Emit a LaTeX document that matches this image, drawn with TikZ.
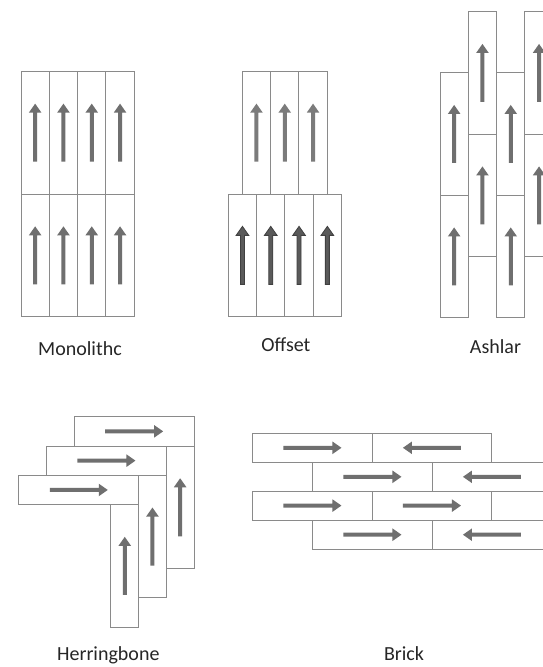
\documentclass[tikz,border=0pt]{standalone}
\usepackage{fontspec}
\setmainfont{Carlito}
\definecolor{PlankGray}{HTML}{8A8A8A}
\definecolor{ArrowGray}{HTML}{6F6F6F}
\definecolor{LightArrow}{HTML}{7B7B7B}
\definecolor{DarkArrow}{HTML}{5A5A5A}
\definecolor{LabelGray}{HTML}{262626}
\tikzset{
  plank/.style={draw=PlankGray, line width=1pt, fill=white},
  patternlabel/.style={font=\fontsize{20}{24}\selectfont, text=LabelGray, anchor=base, inner sep=0pt},
  uparrow/.pic={\path[pic actions] (-2,29) -- (-2,-20) -- (-6.3,-20) -- (0,-29) -- (6.3,-20) -- (2,-20) -- (2,29) -- cycle;},
  rightarrow/.pic={\path[pic actions] (-29,-2) -- (20,-2) -- (20,-6.3) -- (29,0) -- (20,6.3) -- (20,2) -- (-29,2) -- cycle;}
}

\begin{document}
\begin{tikzpicture}[x=1pt, y=-1pt]
  \useasboundingbox (0,0) rectangle (543,667);
  \clip (0,0) rectangle (543,667);
  \fill[white] (0,0) rectangle (543,667);

  % Monolithc
  \foreach \i in {0,...,3} {
    \foreach \j in {0,1} {
      \draw[plank] (21+\i*28.3, 71.3+\j*122.7) rectangle ++(28.3,122.7);
      \pic[fill=ArrowGray] at (35.15+\i*28.3, 132.65+\j*122.7) {uparrow};
    }
  }
  \node[patternlabel] (monolithc) at (80,355) {Monolithc};

  % Offset
  \foreach \i in {0,1,2} {
    \draw[plank] (242.3+\i*28.3, 71.3) rectangle ++(28.3,122.7);
    \pic[fill=LightArrow] at (256.45+\i*28.3, 132.65) {uparrow};
  }
  \foreach \i in {0,...,3} {
    \draw[plank] (228.3+\i*28.3, 194) rectangle ++(28.3,122.7);
    \pic[fill=DarkArrow, draw=black!75, line width=0.8pt] at (242.45+\i*28.3, 255.35) {uparrow};
  }
  \node[patternlabel] (offset) at (285.9,351.7) {Offset};

  % Ashlar
  \foreach \i/\top in {0/72.7, 1/11.7, 2/72.7, 3/11.7} {
    \foreach \j in {0,1} {
      \draw[plank] (440+\i*28.3, \top+\j*122.5) rectangle ++(28.3,122.5);
      \pic[fill=ArrowGray] at (454.15+\i*28.3, \top+61.25+\j*122.5) {uparrow};
    }
  }
  \node[patternlabel] (ashlar) at (495.5,353) {Ashlar};

  % Herringbone
  \foreach \k in {0,1,2} {
    \draw[plank] (74.3-\k*27.7, 416.7+\k*29.3) rectangle ++(119.7,29.3);
    \pic[fill=ArrowGray] at (134.15-\k*27.7, 431.35+\k*29.3) {rightarrow};
    \draw[plank] (166.3-\k*27.7, 446+\k*29.3) rectangle ++(27.7,122.5);
    \pic[fill=ArrowGray] at (180.15-\k*27.7, 507.25+\k*29.3) {uparrow};
  }
  \node[patternlabel] (herringbone) at (108.3,660) {Herringbone};

  % Brick
  \foreach \x/\y/\s in {252.7/433.3/1, 372.2/433.3/-1, 312.7/462.3/1, 432.2/462.3/-1,
                        252.7/491.1/1, 372.2/491.1/1, 312.7/520.2/1, 432.2/520.2/-1} {
    \draw[plank] (\x,\y) rectangle ++(119.5,29);
    \pic[fill=ArrowGray, xscale=\s] at (\x+59.75, \y+14.5) {rightarrow};
  }
  \draw[plank] (491.7,491.1) rectangle ++(119.5,29);
  \node[patternlabel] (brick) at (404,660.7) {Brick};
\end{tikzpicture}
\end{document}
